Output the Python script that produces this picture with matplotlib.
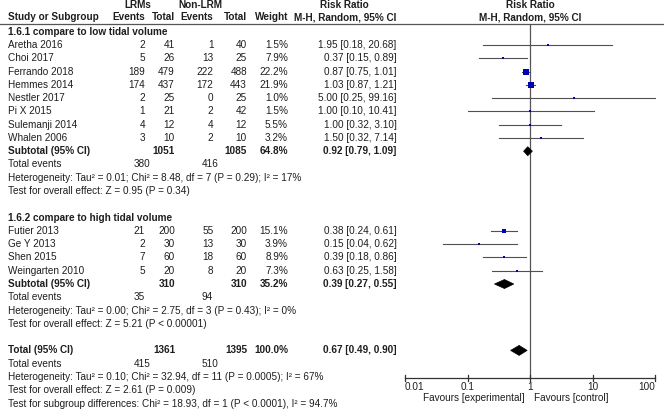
import matplotlib
matplotlib.use("Agg")
import matplotlib.pyplot as plt
from matplotlib.patches import Polygon
import numpy as np

# ---------------- data ----------------
studies1 = ["Aretha 2016", "Choi 2017", "Ferrando 2018", "Hemmes 2014",
            "Nestler 2017", "Pi X 2015", "Sulemanji 2014", "Whalen 2006"]
ev_lrm1 = [2, 5, 189, 174, 2, 1, 4, 3]
tot_lrm1 = [41, 26, 479, 437, 25, 21, 12, 10]
ev_non1 = [1, 13, 222, 172, 0, 2, 4, 2]
tot_non1 = [40, 25, 488, 443, 25, 42, 12, 10]
weight1 = [1.5, 7.9, 22.2, 21.9, 1.0, 1.5, 5.5, 3.2]
rr1 = [1.95, 0.37, 0.87, 1.03, 5.00, 1.00, 1.00, 1.50]
lo1 = [0.18, 0.15, 0.75, 0.87, 0.25, 0.10, 0.32, 0.32]
hi1 = [20.68, 0.89, 1.01, 1.21, 99.16, 10.41, 3.10, 7.14]
sub1 = dict(tot_lrm=1051, tot_non=1085, weight=64.8, rr=0.92, lo=0.79, hi=1.09,
            ev_lrm=380, ev_non=416,
            het="Heterogeneity: Tau² = 0.01; Chi² = 8.48, df = 7 (P = 0.29); I² = 17%",
            test="Test for overall effect: Z = 0.95 (P = 0.34)")

studies2 = ["Futier 2013", "Ge Y 2013", "Shen 2015", "Weingarten 2010"]
ev_lrm2 = [21, 2, 7, 5]
tot_lrm2 = [200, 30, 60, 20]
ev_non2 = [55, 13, 18, 8]
tot_non2 = [200, 30, 60, 20]
weight2 = [15.1, 3.9, 8.9, 7.3]
rr2 = [0.38, 0.15, 0.39, 0.63]
lo2 = [0.24, 0.04, 0.18, 0.25]
hi2 = [0.61, 0.62, 0.86, 1.58]
sub2 = dict(tot_lrm=310, tot_non=310, weight=35.2, rr=0.39, lo=0.27, hi=0.55,
            ev_lrm=35, ev_non=94,
            het="Heterogeneity: Tau² = 0.00; Chi² = 2.75, df = 3 (P = 0.43); I² = 0%",
            test="Test for overall effect: Z = 5.21 (P < 0.00001)")

total = dict(tot_lrm=1361, tot_non=1395, weight=100.0, rr=0.67, lo=0.49, hi=0.90,
             ev_lrm=415, ev_non=510,
             het="Heterogeneity: Tau² = 0.10; Chi² = 32.94, df = 11 (P = 0.0005); I² = 67%",
             test="Test for overall effect: Z = 2.61 (P = 0.009)",
             sub="Test for subgroup differences: Chi² = 18.93, df = 1 (P < 0.0001), I² = 94.7%")

group_titles = ["1.6.1 compare to low tidal volume", "1.6.2 compare to high tidal volume"]
ticks = [0.01, 0.1, 1, 10, 100]
tick_labels = ["0.01", "0.1", "1", "10", "100"]

# ---------------- layout ----------------
W, H = 664, 413
FONT = "Liberation Sans"
FS = 7.2
TXT = "#1e1e1e"
LINE = "#505050"
SQ = "#0000b4"
LX = 7.5

fig = plt.figure(figsize=(W / 100, H / 100), dpi=100)
fig.patch.set_facecolor("white")
tab = fig.add_axes([0, 0, 1, 1])
tab.set_xlim(0, W)
tab.set_ylim(H, 0)
tab.axis("off")

x0, x1 = 405, 655
fx = fig.add_axes([x0 / W, 0, (x1 - x0) / W, 1])
fx.set_xscale("log")
fx.set_xlim(ticks[0], ticks[-1])
fx.set_ylim(H, 0)
fx.axis("off")
fx.patch.set_alpha(0)

# column right edges
C_EV1, C_TOT1, C_EV2, C_TOT2, C_W, C_RR = 145, 175, 213.5, 247, 288, 396.5
ROW0, DY = 31.7, 13.28


def rowy(i):
    return ROW0 + DY * i


def t(x, y, s, ha="left", bold=False, **kw):
    tab.text(x, y, s, ha=ha, va="center", fontsize=FS, family=FONT,
             fontweight="bold" if bold else "normal", color=TXT, **kw)


# headers
t(138, 5.0, "LRMs", ha="center", bold=True)
t(200, 5.0, "Non-LRM", ha="center", bold=True)
t(344, 5.0, "Risk Ratio", ha="center", bold=True)
fx.text(1, 5.0, "Risk Ratio", ha="center", va="center", fontsize=FS, family=FONT,
        fontweight="bold", color=TXT)
t(LX, 17.5, "Study or Subgroup", bold=True)
t(C_EV1, 17.5, "Events", ha="right", bold=True)
t(C_TOT1, 17.5, "Total", ha="right", bold=True)
t(C_EV2, 17.5, "Events", ha="right", bold=True)
t(C_TOT2, 17.5, "Total", ha="right", bold=True)
t(C_W, 17.5, "Weight", ha="right", bold=True)
t(C_RR, 17.5, "M-H, Random, 95% CI", ha="right", bold=True)
fx.text(1, 17.5, "M-H, Random, 95% CI", ha="center", va="center", fontsize=FS,
        family=FONT, fontweight="bold", color=TXT)
tab.plot([0, W], [23.8, 23.8], color="#555555", lw=0.9)


def draw_study(y, name, e1, n1, e2, n2, w, r, lo, hi):
    t(LX, y, name)
    t(C_EV1, y, str(e1), ha="right")
    t(C_TOT1, y, str(n1), ha="right")
    t(C_EV2, y, str(e2), ha="right")
    t(C_TOT2, y, str(n2), ha="right")
    t(C_W, y, f"{w:.1f}%", ha="right")
    t(C_RR, y, f"{r:.2f} [{lo:.2f}, {hi:.2f}]", ha="right")
    fx.plot([lo, hi], [y, y], color=LINE, lw=0.8, clip_on=False, zorder=2)
    side = max(2.2, 0.26 * w)
    fx.plot([r], [y], marker="s", ms=side * 0.72, color=SQ, mec=SQ, mew=0,
            clip_on=False, zorder=3)


def diamond(y, r, lo, hi, hh=4.5):
    fx.add_patch(Polygon([[lo, y], [r, y - hh], [hi, y], [r, y + hh]],
                         closed=True, facecolor="black", edgecolor="black",
                         lw=0.5, clip_on=False, zorder=4))


def summary_block(row, label, s, hh=4.5):
    y = rowy(row)
    t(LX, y, label, bold=True)
    t(C_TOT1, y, str(s["tot_lrm"]), ha="right", bold=True)
    t(C_TOT2, y, str(s["tot_non"]), ha="right", bold=True)
    t(C_W, y, f"{s['weight']:.1f}%", ha="right", bold=True)
    t(C_RR, y, f"{s['rr']:.2f} [{s['lo']:.2f}, {s['hi']:.2f}]", ha="right", bold=True)
    diamond(y, s["rr"], s["lo"], s["hi"], hh)
    y = rowy(row + 1)
    t(LX, y, "Total events")
    t(133.5, y, str(s["ev_lrm"]))
    t(202, y, str(s["ev_non"]))
    t(LX, rowy(row + 2), s["het"])
    t(LX, rowy(row + 3), s["test"])


# group 1
t(LX, rowy(0), group_titles[0], bold=True)
for k in range(len(studies1)):
    draw_study(rowy(1 + k), studies1[k], ev_lrm1[k], tot_lrm1[k], ev_non1[k],
               tot_non1[k], weight1[k], rr1[k], lo1[k], hi1[k])
summary_block(9, "Subtotal (95% CI)", sub1)

# group 2
t(LX, rowy(14), group_titles[1], bold=True)
for k in range(len(studies2)):
    draw_study(rowy(15 + k), studies2[k], ev_lrm2[k], tot_lrm2[k], ev_non2[k],
               tot_non2[k], weight2[k], rr2[k], lo2[k], hi2[k])
summary_block(19, "Subtotal (95% CI)", sub2)

# overall
summary_block(24, "Total (95% CI)", total, hh=5.0)
t(LX, rowy(28), total["sub"])

# reference line and axis
AX_Y = 377.8
fx.plot([1, 1], [24.5, AX_Y], color="#555555", lw=0.9, clip_on=False, zorder=1)
fx.plot([ticks[0], ticks[-1]], [AX_Y, AX_Y], color="#333333", lw=0.9, clip_on=False)
for i, (tv, tl) in enumerate(zip(ticks, tick_labels)):
    fx.plot([tv, tv], [AX_Y - 3.2, AX_Y + 3.2], color="#333333", lw=0.9, clip_on=False)
    ha = "left" if i == 0 else ("right" if i == len(ticks) - 1 else "center")
    fx.text(tv, 386.8, tl, ha=ha, va="center", fontsize=FS, family=FONT, color=TXT)
t(525, 397.8, "Favours [experimental]", ha="right")
t(534, 397.8, "Favours [control]", ha="left")

fig.savefig("out.png", dpi=100, facecolor="white")
